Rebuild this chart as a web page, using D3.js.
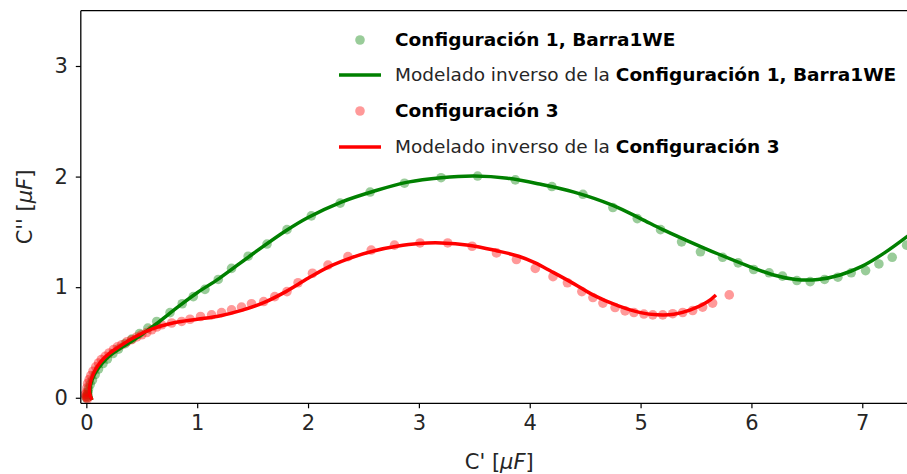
<!DOCTYPE html>
<html>
  <head>
    <meta charset="utf-8">
    <title>Cole-Cole</title>
    <script src="https://d3js.org/d3.v7.min.js"></script>
    <style>
      body { margin: 0; background: #fff; }
      text { font-family: "DejaVu Sans", sans-serif; fill: #262626; }
    </style>
  </head>
  <body>
  <script>

var thewidth = 907;
var theheight = 474;

// measured data, Configuración 1 (green)
var conf1X = [0.0, 0.005, 0.01, 0.015, 0.02, 0.035, 0.055, 0.08, 0.11, 0.15, 0.19, 0.24, 0.29, 0.35, 0.41, 0.48, 0.555, 0.635, 0.755, 0.865, 0.965, 1.07, 1.19, 1.31, 1.46, 1.63, 1.81, 2.03, 2.29, 2.56, 2.87, 3.20, 3.53, 3.87, 4.20, 4.48, 4.75, 4.97, 5.18, 5.37, 5.54, 5.74, 5.88, 6.02, 6.16, 6.28, 6.41, 6.53, 6.66, 6.78, 6.90, 7.03, 7.15, 7.27, 7.40];
var conf1Y = [0.0, 0.015, 0.03, 0.05, 0.08, 0.12, 0.16, 0.21, 0.26, 0.31, 0.35, 0.40, 0.44, 0.49, 0.53, 0.58, 0.63, 0.69, 0.77, 0.85, 0.915, 0.98, 1.07, 1.17, 1.28, 1.39, 1.52, 1.645, 1.76, 1.86, 1.94, 1.99, 2.005, 1.97, 1.91, 1.84, 1.72, 1.62, 1.52, 1.41, 1.32, 1.27, 1.22, 1.16, 1.13, 1.10, 1.06, 1.05, 1.07, 1.09, 1.13, 1.15, 1.21, 1.27, 1.38];

// inverse model, Configuración 1
var model1X = [0.05, 0.035, 0.035, 0.05, 0.085, 0.14, 0.21, 0.31, 0.44, 0.6, 0.85, 1.0, 1.2, 1.5, 1.8, 2.0, 2.3, 2.6, 2.9, 3.2, 3.5, 3.8, 4.1, 4.4, 4.75, 5.0, 5.2, 5.4, 5.7, 6.0, 6.2, 6.4, 6.6, 6.8, 7.0, 7.2, 7.5];
var model1Y = [-0.02, 0.04, 0.1, 0.16, 0.235, 0.31, 0.38, 0.45, 0.53, 0.645, 0.84, 0.95, 1.08, 1.30, 1.51, 1.63, 1.77, 1.87, 1.95, 1.99, 2.005, 1.985, 1.93, 1.86, 1.74, 1.62, 1.52, 1.43, 1.30, 1.18, 1.11, 1.07, 1.07, 1.11, 1.19, 1.31, 1.53];

// measured data, Configuración 3 (red)
var conf3X = [0.01, 0.005, -0.005, -0.01, 0.0, 0.005, 0.012, 0.025, 0.04, 0.06, 0.085, 0.11, 0.135, 0.17, 0.205, 0.245, 0.28, 0.32, 0.365, 0.41, 0.455, 0.50, 0.545, 0.59, 0.635, 0.68, 0.77, 0.86, 0.935, 1.03, 1.13, 1.22, 1.31, 1.40, 1.49, 1.60, 1.70, 1.81, 1.91, 2.04, 2.18, 2.36, 2.57, 2.78, 3.01, 3.26, 3.48, 3.70, 3.88, 4.05, 4.21, 4.34, 4.47, 4.57, 4.66, 4.77, 4.86, 4.94, 5.03, 5.11, 5.20, 5.29, 5.38, 5.47, 5.56, 5.65, 5.80];
var conf3Y = [-0.01, 0.0, 0.01, 0.03, 0.05, 0.09, 0.13, 0.165, 0.2, 0.24, 0.28, 0.315, 0.345, 0.375, 0.405, 0.435, 0.46, 0.48, 0.505, 0.525, 0.55, 0.57, 0.59, 0.615, 0.64, 0.66, 0.676, 0.69, 0.71, 0.735, 0.75, 0.77, 0.795, 0.82, 0.85, 0.87, 0.915, 0.96, 1.04, 1.126, 1.20, 1.276, 1.336, 1.38, 1.40, 1.40, 1.37, 1.31, 1.25, 1.17, 1.095, 1.04, 0.96, 0.906, 0.856, 0.816, 0.786, 0.771, 0.757, 0.75, 0.75, 0.76, 0.771, 0.789, 0.82, 0.856, 0.93];

// inverse model, Configuración 3
var model3X = [0.05, 0.03, 0.03, 0.045, 0.08, 0.13, 0.2, 0.3, 0.43, 0.6, 0.8, 1.0, 1.2, 1.4, 1.6, 1.8, 2.0, 2.2, 2.4, 2.6, 2.8, 3.0, 3.2, 3.45, 3.7, 3.9, 4.05, 4.2, 4.4, 4.57, 4.8, 5.0, 5.15, 5.3, 5.45, 5.6, 5.68];
var model3Y = [-0.02, 0.04, 0.1, 0.17, 0.25, 0.325, 0.395, 0.465, 0.545, 0.625, 0.68, 0.71, 0.74, 0.79, 0.86, 0.96, 1.08, 1.19, 1.27, 1.33, 1.37, 1.395, 1.40, 1.38, 1.33, 1.28, 1.22, 1.14, 1.03, 0.93, 0.83, 0.77, 0.75, 0.755, 0.795, 0.865, 0.93];

var xTicks = [0, 1, 2, 3, 4, 5, 6, 7];
var yTicks = [0, 1, 2, 3];

var padL = 80.8, padR = 917.7, padT = 10.7, padB = 403.3;

var svg = d3.select("body").append("svg")
    .attr("width", thewidth)
    .attr("height", theheight);

var x = d3.scaleLinear().domain([-0.05, 7.5]).range([padL, padR]);
var y = d3.scaleLinear().domain([-0.05, 3.5]).range([padB, padT]);

svg.append("clipPath").attr("id", "plotclip")
    .append("rect")
    .attr("x", padL).attr("y", padT)
    .attr("width", padR - padL).attr("height", padB - padT);

var plot = svg.append("g").attr("clip-path", "url(#plotclip)");

function zipPts(xs, ys) {
    return xs.map(function(d, i) { return [d, ys[i]]; });
}

function scatter(xs, ys, color) {
    plot.append("g").selectAll("circle")
        .data(zipPts(xs, ys))
        .enter().append("circle")
        .attr("cx", function(d) { return x(d[0]); })
        .attr("cy", function(d) { return y(d[1]); })
        .attr("r", 4.8)
        .attr("fill", color)
        .attr("fill-opacity", 0.4);
}

var line = d3.line()
    .x(function(d) { return x(d[0]); })
    .y(function(d) { return y(d[1]); })
    .curve(d3.curveCatmullRom.alpha(0.5));

function modelLine(xs, ys, color) {
    plot.append("path")
        .datum(zipPts(xs, ys))
        .attr("d", line)
        .attr("fill", "none")
        .attr("stroke", color)
        .attr("stroke-width", 3.5)
        .attr("stroke-linejoin", "round");
}

// scatter first (zorder 1), then lines
scatter(conf1X, conf1Y, "#008000");
scatter(conf3X, conf3Y, "#ff0000");
modelLine(model1X, model1Y, "#008000");
modelLine(model3X, model3Y, "#ff0000");

// axes
var xAxis = svg.append("g")
    .attr("transform", "translate(0," + padB + ")")
    .call(d3.axisBottom(x).tickValues(xTicks).tickSize(5).tickPadding(7).tickFormat(d3.format("d")));
var yAxis = svg.append("g")
    .attr("transform", "translate(" + padL + ",0)")
    .call(d3.axisLeft(y).tickValues(yTicks).tickSize(5).tickPadding(8).tickFormat(d3.format("d")));

[xAxis, yAxis].forEach(function(a) {
    a.select(".domain").remove();
    a.selectAll(".tick line").attr("stroke", "#000").attr("stroke-width", 1.2);
    a.selectAll(".tick text")
        .style("font-family", "DejaVu Sans")
        .style("font-size", "21px")
        .attr("fill", "#262626");
});

// spines
svg.append("line").attr("x1", padL).attr("x2", padL).attr("y1", padT).attr("y2", padB)
    .attr("stroke", "#000").attr("stroke-width", 1.3);
svg.append("line").attr("x1", padL).attr("x2", padR).attr("y1", padB).attr("y2", padB)
    .attr("stroke", "#000").attr("stroke-width", 1.3);
svg.append("line").attr("x1", padL).attr("x2", padR).attr("y1", padT).attr("y2", padT)
    .attr("stroke", "#000").attr("stroke-width", 1.3);

// axis labels
var xl = svg.append("text")
    .attr("x", (padL + padR) / 2).attr("y", 469)
    .attr("text-anchor", "middle")
    .style("font-size", "21px");
xl.append("tspan").text("C' [");
xl.append("tspan").style("font-style", "italic").text("μF");
xl.append("tspan").text("]");

var yl = svg.append("text")
    .attr("transform", "translate(32," + ((padT + padB) / 2) + ") rotate(-90)")
    .attr("text-anchor", "middle")
    .style("font-size", "21px");
yl.append("tspan").text("C'' [");
yl.append("tspan").style("font-style", "italic").text("μF");
yl.append("tspan").text("]");

// legend
var legendRows = [
    {kind: "dot", color: "#008000", pre: "", bold: "Configuración 1, Barra1WE"},
    {kind: "line", color: "#008000", pre: "Modelado inverso de la ", bold: "Configuración 1, Barra1WE"},
    {kind: "dot", color: "#ff0000", pre: "", bold: "Configuración 3"},
    {kind: "line", color: "#ff0000", pre: "Modelado inverso de la ", bold: "Configuración 3"}
];
var legendY = [40, 75, 111, 147];

var leg = svg.append("g");
legendRows.forEach(function(r, i) {
    var ly = legendY[i];
    if (r.kind == "dot") {
        leg.append("circle").attr("cx", 360).attr("cy", ly).attr("r", 4.8)
            .attr("fill", r.color).attr("fill-opacity", 0.4);
    } else {
        leg.append("line").attr("x1", 339).attr("x2", 381).attr("y1", ly).attr("y2", ly)
            .attr("stroke", r.color).attr("stroke-width", 3.5);
    }
    var t = leg.append("text").attr("x", 395).attr("y", ly + 6)
        .style("font-size", "18.5px");
    if (r.pre) t.append("tspan").text(r.pre);
    t.append("tspan").style("font-weight", "bold").attr("fill", "#000").text(r.bold);
});

  </script>
  </body>
</html>
